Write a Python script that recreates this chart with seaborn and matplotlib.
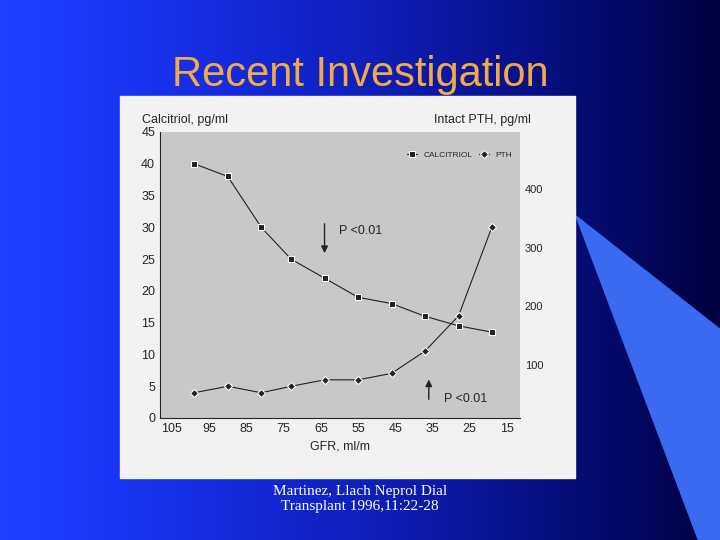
import numpy as np
import pandas as pd
import seaborn as sns
from matplotlib import pyplot as plt
from matplotlib.patches import Rectangle, Polygon

# data
gfr = [99, 90, 81, 73, 64, 55, 46, 37, 28, 19]
calcitriol = [40, 38, 30, 25, 22, 19, 18, 16, 14.5, 13.5]
pth = [53, 64, 53, 64, 75, 75, 86, 124, 184, 336]
x_ticks = [105, 95, 85, 75, 65, 55, 45, 35, 25, 15]
left_ticks = [0, 5, 10, 15, 20, 25, 30, 35, 40, 45]
right_ticks = [100, 200, 300, 400]

df = pd.DataFrame({'gfr': gfr, 'calcitriol': calcitriol, 'pth': pth})

sns.set_style('white')
plt.rcParams['font.family'] = ['Liberation Sans', 'DejaVu Sans']
fig = plt.figure(figsize=(7.2, 5.4), dpi=100)

# slide background: blue gradient
bg = fig.add_axes([0, 0, 1, 1])
grad = np.linspace(0, 1, 256)
cols = np.zeros((2, 256, 3))
cols[:, :, 2] = 1 - 0.75 * grad ** 1.5
cols[:, :, 0] = 0.12 * (1 - grad)
cols[:, :, 1] = 0.25 * (1 - grad)
bg.imshow(cols, aspect='auto', extent=[0, 1, 0, 1])
bg.add_patch(Polygon([[0.80, 0.60], [1, 0.39], [1, 0.0], [0.97, 0.0]],
                     closed=True, color='#3a6af0'))
bg.add_patch(Rectangle((120 / 720, 1 - 478 / 540), 455 / 720, 382 / 540, color='#f2f2f2'))
bg.set_xlim(0, 1)
bg.set_ylim(0, 1)
bg.axis('off')
fig.text(0.5, 0.84, 'Recent Investigation', ha='center', color='#f2aa48', fontsize=30)
fig.text(0.5, 0.055, 'Martinez, Llach Neprol Dial\nTransplant 1996,11:22-28', ha='center',
         color='white', fontsize=11, family='Liberation Serif', linespacing=1.2)

ax = fig.add_axes([160 / 720, 1 - 418 / 540, 360 / 720, 286 / 540])
ax.set_facecolor('#c8c8c8')
sns.lineplot(data=df, x='gfr', y='calcitriol', ax=ax, color='#222222', marker='s',
             markersize=5, linewidth=0.8, label='CALCITRIOL', legend=False)
ax2 = ax.twinx()
sns.lineplot(data=df, x='gfr', y='pth', ax=ax2, color='#222222', marker='D',
             markersize=4, linewidth=0.8, label='PTH', legend=False)
ax.set_xlim(108.2, 11.5)
ax.set_ylim(0, 45)
ax2.set_ylim(10, 497)
ax.set_xticks(x_ticks)
ax.set_yticks(left_ticks)
ax2.set_yticks(right_ticks)
ax.tick_params(labelsize=9, length=0)
ax2.tick_params(labelsize=8, length=0)
ax.set_xlabel('GFR, ml/m', fontsize=9)
ax.set_ylabel('')
ax2.set_ylabel('')
for s in ['top', 'right']:
    ax.spines[s].set_visible(False)
    ax2.spines[s].set_visible(False)
ax2.spines['left'].set_visible(False)
ax2.spines['bottom'].set_visible(False)
ax.text(-0.05, 1.03, 'Calcitriol, pg/ml', transform=ax.transAxes, fontsize=9)
ax.text(1.03, 1.03, 'Intact PTH, pg/ml', transform=ax.transAxes, fontsize=9, ha='right')
h1, l1 = ax.get_legend_handles_labels()
h2, l2 = ax2.get_legend_handles_labels()
ax2.legend(h1 + h2, l1 + l2, loc='upper right', ncol=2, fontsize=6, frameon=False,
           bbox_to_anchor=(1.0, 0.96), handlelength=1.2, columnspacing=0.8)
ax.annotate('', xy=(64, 25.5), xytext=(64, 31),
            arrowprops=dict(arrowstyle='-|>', lw=1.0, color='#222222'))
ax.text(60, 29, 'P <0.01', fontsize=9)
ax.annotate('', xy=(36, 6.5), xytext=(36, 2.5),
            arrowprops=dict(arrowstyle='-|>', lw=1.0, color='#222222'))
ax.text(32, 2.5, 'P <0.01', fontsize=9)

fig.savefig('out.png', dpi=100)
